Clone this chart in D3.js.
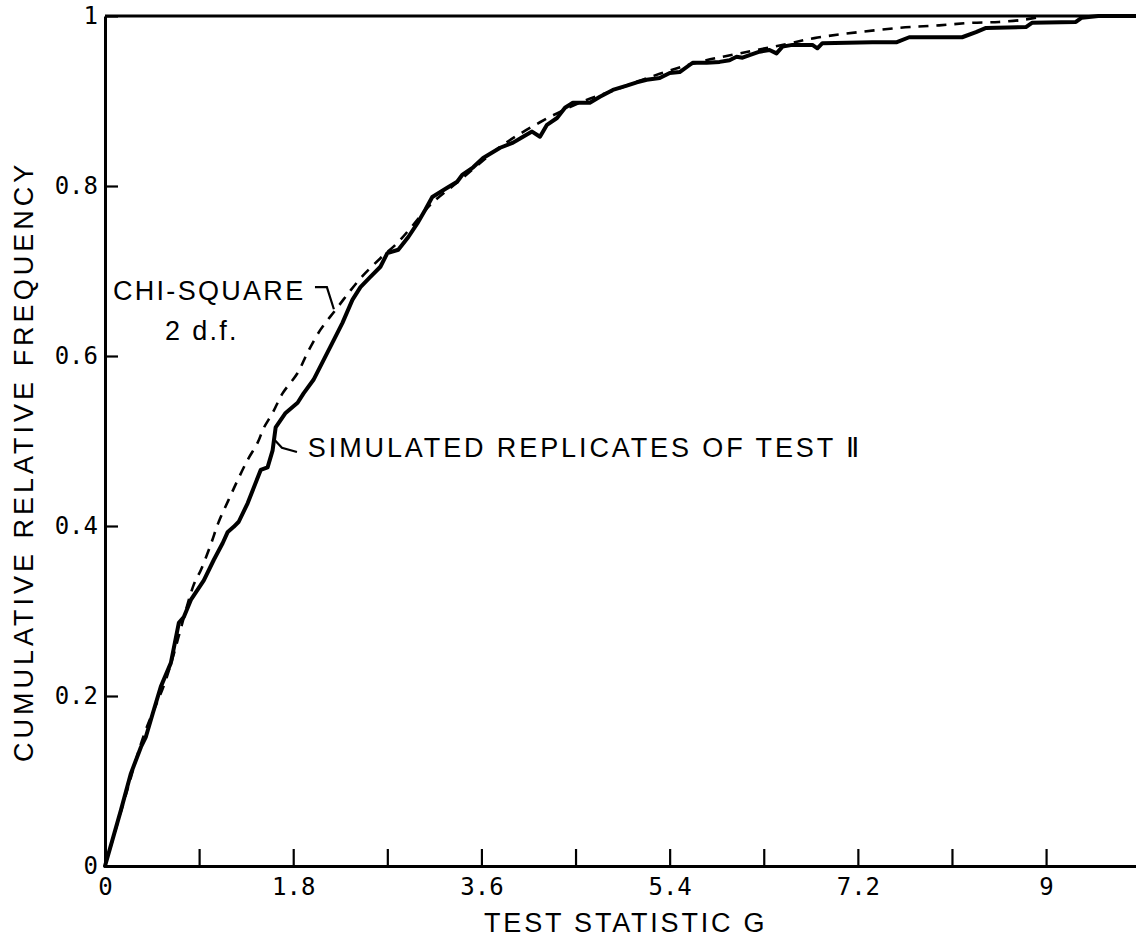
<!DOCTYPE html>
<html>
<head>
<meta charset="utf-8">
<script src="https://cdn.jsdelivr.net/npm/d3@7"></script>
<style>
  html, body { margin: 0; padding: 0; background: #fff; }
  svg { display: block; }
</style>
</head>
<body>
<div id="chart"></div>
<script>
// ---------------- data ----------------
const xTicks = [0, 0.9, 1.8, 2.7, 3.6, 4.5, 5.4, 6.3, 7.2, 8.1, 9];
const xTickLabels = ["0", "", "1.8", "", "3.6", "", "5.4", "", "7.2", "", "9"];
const yTicks = [0, 0.2, 0.4, 0.6, 0.8, 1];
const yTickLabels = ["0", "0.2", "0.4", "0.6", "0.8", "1"];

// simulated replicates of test II (empirical cumulative frequency)
const simG = [0, 0.153, 0.248, 0.344, 0.391, 0.458, 0.534, 0.630, 0.706, 0.754, 0.821, 0.945,
  1.040, 1.126, 1.174, 1.231, 1.279, 1.365, 1.489, 1.555, 1.603, 1.632, 1.727, 1.842, 1.899, 1.994,
  2.156, 2.271, 2.366, 2.443, 2.538, 2.634, 2.700, 2.805, 2.901, 2.987, 3.063, 3.130, 3.273, 3.368,
  3.416, 3.521, 3.616, 3.779, 3.903, 3.998, 4.084, 4.160, 4.227, 4.323, 4.399, 4.475, 4.637, 4.733,
  4.857, 4.990, 5.086, 5.181, 5.305, 5.401, 5.496, 5.620, 5.754, 5.878, 5.973, 6.040, 6.097, 6.164,
  6.260, 6.355, 6.422, 6.479, 6.574, 6.765, 6.813, 6.861, 7.338, 7.567, 7.691, 8.197, 8.330, 8.426,
  8.807, 8.865, 9.285, 9.342, 9.500, 9.860];
const simF = [0, 0.066, 0.109, 0.140, 0.152, 0.180, 0.211, 0.239, 0.286, 0.293, 0.313, 0.336,
  0.360, 0.380, 0.393, 0.399, 0.405, 0.427, 0.466, 0.469, 0.489, 0.516, 0.533, 0.545, 0.556, 0.572,
  0.611, 0.639, 0.666, 0.681, 0.693, 0.705, 0.721, 0.725, 0.740, 0.756, 0.772, 0.787, 0.798, 0.805,
  0.813, 0.822, 0.833, 0.845, 0.851, 0.858, 0.864, 0.858, 0.872, 0.880, 0.892, 0.898, 0.898, 0.905,
  0.913, 0.918, 0.922, 0.925, 0.927, 0.933, 0.934, 0.945, 0.945, 0.946, 0.948, 0.952, 0.951, 0.954,
  0.958, 0.960, 0.956, 0.964, 0.966, 0.966, 0.962, 0.968, 0.969, 0.969, 0.975, 0.975, 0.981, 0.986,
  0.987, 0.992, 0.993, 0.998, 1.000, 1.000];

// chi-square, 2 d.f. (dashed reference curve)
const chiG = [0, 0.200, 0.372, 0.582, 0.849, 0.916, 1.011, 1.088, 1.183, 1.269, 1.365, 1.460, 1.517,
  1.603, 1.698, 1.842, 1.937, 2.061, 2.204, 2.328, 2.462, 2.634, 2.796, 2.939, 3.111, 3.397, 3.779,
  4.160, 4.542, 4.924, 5.305, 5.687, 6.069, 6.517, 6.784, 7.071, 7.595, 7.977, 8.292, 8.550, 8.807, 8.979];
const chiF = [0, 0.084, 0.154, 0.219, 0.331, 0.348, 0.378, 0.405, 0.431, 0.454, 0.478, 0.498, 0.515,
  0.533, 0.556, 0.580, 0.604, 0.631, 0.654, 0.674, 0.694, 0.715, 0.733, 0.753, 0.778, 0.807, 0.846,
  0.875, 0.898, 0.915, 0.932, 0.946, 0.956, 0.967, 0.974, 0.979, 0.986, 0.989, 0.992, 0.993, 0.996, 1.000];

const xTitle = "TEST STATISTIC G";
const yTitle = "CUMULATIVE RELATIVE FREQUENCY";
const chiLabel1 = "CHI-SQUARE";
const chiLabel2 = "2 d.f.";
const simLabel = "SIMULATED REPLICATES OF TEST \u2161";

// ---------------- layout ----------------
const W = 1136, H = 937;
const x = d3.scaleLinear().domain([0, 9.86]).range([105, 1136]);
const y = d3.scaleLinear().domain([0, 1]).range([866, 16]);

const svg = d3.select("#chart").append("svg")
  .attr("width", W).attr("height", H)
  .style("background", "#fff");

const ink = "#000";
const sans = "'Liberation Sans', Arial, 'DejaVu Sans', sans-serif";
const mono = "'DejaVu Sans Mono', 'Liberation Mono', monospace";

// top frame line
svg.append("line")
  .attr("x1", x(0)).attr("x2", x(9.86))
  .attr("y1", y(1)).attr("y2", y(1))
  .attr("stroke", ink).attr("stroke-width", 3);

// x axis
const xAxis = d3.axisBottom(x)
  .tickValues(xTicks)
  .tickFormat((d, i) => xTickLabels[i])
  .tickSizeInner(-17)
  .tickSizeOuter(0);
const gx = svg.append("g").attr("transform", `translate(0,${y(0)})`).call(xAxis);
gx.select(".domain").attr("stroke", ink).attr("stroke-width", 3);
gx.selectAll(".tick line").attr("stroke", ink).attr("stroke-width", 2.2);
gx.selectAll(".tick text")
  .attr("y", 29).attr("dy", null)
  .attr("fill", ink)
  .style("font-family", mono).style("font-size", "24px");

// y axis
const yAxis = d3.axisLeft(y)
  .tickValues(yTicks)
  .tickFormat((d, i) => yTickLabels[i])
  .tickSizeInner(-13)
  .tickSizeOuter(0)
  .tickPadding(7);
const gy = svg.append("g").attr("transform", `translate(${x(0)},0)`).call(yAxis);
gy.select(".domain").attr("stroke", ink).attr("stroke-width", 3);
gy.selectAll(".tick line").attr("stroke", ink).attr("stroke-width", 2.2);
gy.selectAll(".tick text")
  .attr("fill", ink)
  .style("font-family", mono).style("font-size", "24px");

// curves
const line = d3.line().x(d => x(d[0])).y(d => y(d[1]));

svg.append("path")
  .datum(chiG.map((g, i) => [g, chiF[i]]))
  .attr("d", d3.line().x(d => x(d[0])).y(d => y(d[1])).curve(d3.curveCatmullRom))
  .attr("fill", "none").attr("stroke", ink)
  .attr("stroke-width", 2.6).attr("stroke-dasharray", "10,8");

svg.append("path")
  .datum(simG.map((g, i) => [g, simF[i]]))
  .attr("d", line)
  .attr("fill", "none").attr("stroke", ink)
  .attr("stroke-width", 4).attr("stroke-linejoin", "round").attr("stroke-linecap", "round");

// annotations
const label = (txt, gx0, fy, anchor, spacing) => svg.append("text")
  .attr("x", x(gx0)).attr("y", y(fy))
  .attr("text-anchor", anchor)
  .attr("fill", ink)
  .style("font-family", sans).style("font-size", "27px")
  .style("letter-spacing", spacing + "px")
  .text(txt);

label(chiLabel1, 0.076, 0.666, "start", 2.3);
label(chiLabel2, 0.574, 0.619, "start", 2.3);
label(simLabel, 1.94, 0.481, "start", 2.9);

svg.append("path")
  .datum([[2.008, 0.681], [2.122, 0.681], [2.189, 0.655]])
  .attr("d", line).attr("fill", "none").attr("stroke", ink).attr("stroke-width", 2.2);
svg.append("path")
  .datum([[1.625, 0.501], [1.692, 0.492], [1.836, 0.487]])
  .attr("d", line).attr("fill", "none").attr("stroke", ink).attr("stroke-width", 2.2);

// axis titles
svg.append("text")
  .attr("x", x(4.98)).attr("y", 932)
  .attr("text-anchor", "middle").attr("fill", ink)
  .style("font-family", sans).style("font-size", "27px").style("letter-spacing", "2.8px")
  .text(xTitle);

svg.append("text")
  .attr("transform", `translate(33,${y(0.476)}) rotate(-90)`)
  .attr("text-anchor", "middle").attr("fill", ink)
  .style("font-family", sans).style("font-size", "27px").style("letter-spacing", "4px")
  .text(yTitle);
</script>
</body>
</html>
